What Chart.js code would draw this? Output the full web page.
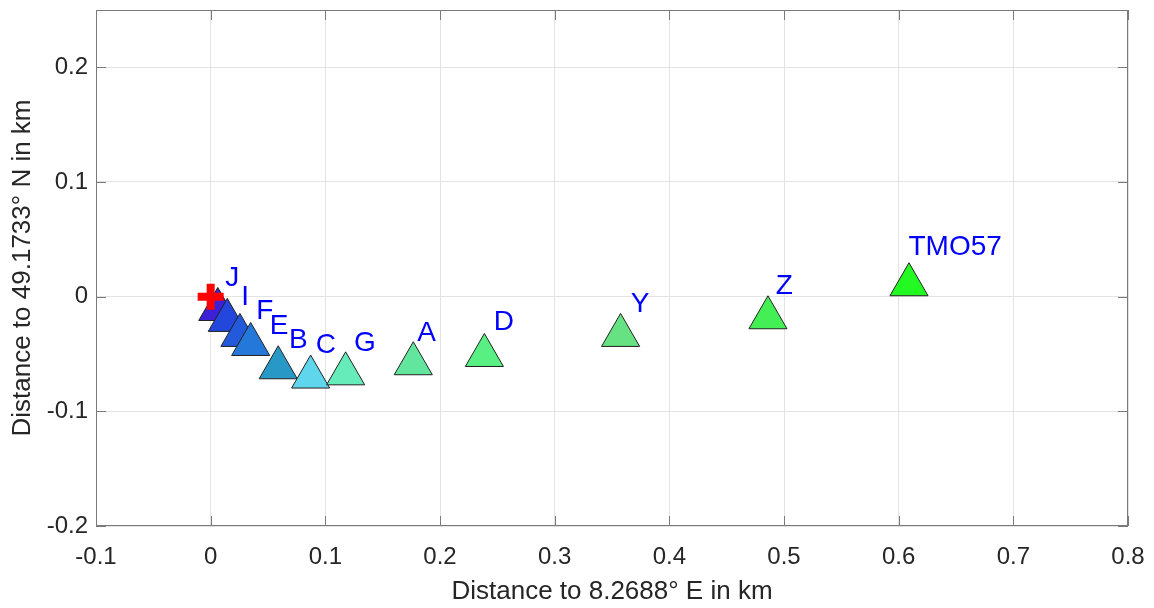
<!DOCTYPE html>
<html>
<head>
<meta charset="utf-8">
<script src="https://cdn.jsdelivr.net/npm/chart.js@4.4.0/dist/chart.umd.min.js"></script>
<style>
  html, body { margin: 0; padding: 0; background: #fff; }
  #wrap { width: 1154px; height: 608px; position: relative; }
</style>
</head>
<body>
<div id="wrap"><canvas id="chart"></canvas></div>
<script>
// Stationsnamen und Positionen (km relativ zum Referenzpunkt)
const stations = ['J', 'I', 'F', 'E', 'B', 'C', 'G', 'A', 'D', 'Y', 'Z', 'TMO57'];
const eastKm  = [0.0062, 0.0145, 0.0255, 0.0349, 0.0589, 0.0872, 0.1177, 0.1767, 0.2387, 0.3575, 0.486, 0.609];
const northKm = [-0.0112, -0.0207, -0.0338, -0.0417, -0.062, -0.0701, -0.0673, -0.0585, -0.0513, -0.0338, -0.0184, 0.0104];
const stationColors = ['#3c20d8', '#2346dc', '#235adc', '#2478da', '#2898c6', '#60d6ec', '#66ecbb',
                       '#62e69e', '#58f082', '#66e282', '#44ee55', '#22fa22'];
// Lage der Beschriftungen (km)
const labelEast  = [0.0145, 0.0284, 0.0415, 0.0532, 0.070, 0.0933, 0.1267, 0.1819, 0.2487, 0.3682, 0.4946, 0.6103];
const labelNorth = [0.0167, 0.0001, -0.0121, -0.0249, -0.0372, -0.0413, -0.0394, -0.031, -0.0219, -0.0056, 0.0101, 0.0439];
// Referenzpunkt
const refEast = [0];
const refNorth = [0];
// Achsen
const xTicks = [-0.1, 0, 0.1, 0.2, 0.3, 0.4, 0.5, 0.6, 0.7, 0.8];
const yTicks = [-0.2, -0.1, 0, 0.1, 0.2];

const FONT = '"Liberation Sans", Arial, Helvetica, sans-serif';

// Rahmen, Ticks nach innen und Stationsnamen
const boxPlugin = {
    id: 'boxPlugin',
    afterDatasetsDraw(chart) {
        const { ctx, chartArea: a, scales: { x, y } } = chart;
        ctx.save();
        ctx.strokeStyle = '#7a7a7a';
        ctx.lineWidth = 1;
        ctx.strokeRect(a.left + 0.5, a.top + 0.5, a.right - a.left - 1, a.bottom - a.top - 1);
        ctx.beginPath();
        xTicks.forEach(v => {
            const px = Math.round(x.getPixelForValue(v)) + 0.5;
            ctx.moveTo(px, a.bottom); ctx.lineTo(px, a.bottom - 10);
            ctx.moveTo(px, a.top); ctx.lineTo(px, a.top + 10);
        });
        yTicks.forEach(v => {
            const py = Math.round(y.getPixelForValue(v)) + 0.5;
            ctx.moveTo(a.left, py); ctx.lineTo(a.left + 10, py);
            ctx.moveTo(a.right, py); ctx.lineTo(a.right - 10, py);
        });
        ctx.stroke();

        ctx.fillStyle = '#0000ff';
        ctx.font = '28px ' + FONT;
        ctx.textAlign = 'left';
        ctx.textBaseline = 'middle';
        stations.forEach((name, i) => {
            ctx.fillText(name, x.getPixelForValue(labelEast[i]) - 2, y.getPixelForValue(labelNorth[i]) + 1);
        });
        ctx.restore();
    }
};

new Chart(document.getElementById('chart'), {
    type: 'scatter',
    data: {
        datasets: [
            {
                label: 'Referenz',
                data: refEast.map((v, i) => ({ x: v, y: refNorth[i] })),
                pointStyle: 'cross',
                pointRadius: 13,
                borderWidth: 8,
                borderColor: '#ff0000',
                backgroundColor: '#ff0000',
                order: 0
            },
            {
                label: 'Stationen',
                data: eastKm.map((v, i) => ({ x: v, y: northKm[i] })),
                pointStyle: 'triangle',
                pointRadius: 22,
                borderWidth: 1,
                borderColor: '#222222',
                backgroundColor: stationColors,
                order: 1
            }
        ]
    },
    options: {
        responsive: true,
        maintainAspectRatio: false,
        animation: false,
        events: [],
        layout: { autoPadding: false, padding: { top: 10, right: 26, left: 0, bottom: 0 } },
        plugins: {
            legend: { display: false },
            tooltip: { enabled: false }
        },
        scales: {
            x: {
                type: 'linear',
                min: -0.1,
                max: 0.8,
                afterBuildTicks: s => { s.ticks = xTicks.map(v => ({ value: v })); },
                afterFit: s => { s.height = 82; s.paddingLeft = 0; s.paddingRight = 0; },
                grid: { color: '#e3e3e3', drawTicks: false },
                border: { display: false },
                ticks: {
                    color: '#262626',
                    padding: 17,
                    maxRotation: 0,
                    font: { family: FONT, size: 24 },
                    callback: v => String(Number(v.toFixed(1)))
                },
                title: {
                    display: true,
                    text: 'Distance to 8.2688° E in km',
                    color: '#262626',
                    font: { family: FONT, size: 26 },
                    padding: { top: 0, bottom: 1 }
                }
            },
            y: {
                type: 'linear',
                min: -0.2,
                max: 0.25,
                afterBuildTicks: s => { s.ticks = yTicks.map(v => ({ value: v })); },
                afterFit: s => { s.width = 96; s.paddingTop = 0; s.paddingBottom = 0; },
                grid: { color: '#e3e3e3', drawTicks: false },
                border: { display: false },
                ticks: {
                    color: '#262626',
                    padding: 8,
                    font: { family: FONT, size: 24 },
                    callback: v => String(Number(v.toFixed(1)))
                },
                title: {
                    display: true,
                    text: 'Distance to 49.1733° N in km',
                    color: '#262626',
                    font: { family: FONT, size: 26 },
                    padding: { top: 7, bottom: 0 }
                }
            }
        }
    },
    plugins: [boxPlugin]
});
</script>
</body>
</html>
